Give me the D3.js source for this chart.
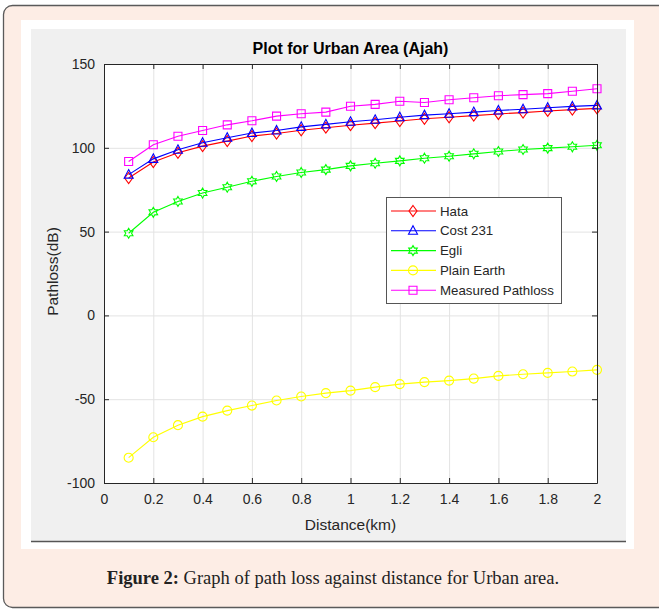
<!DOCTYPE html>
<html>
<head>
<meta charset="utf-8">
<script src="https://cdn.jsdelivr.net/npm/d3@7"></script>
<style>
  body { margin: 0; background: #fff; }
  svg text { font-family: "Liberation Sans", Arial, sans-serif; }
</style>
</head>
<body>
<div id="chart"></div>
<script>
// distance (km)
const distance = [0.1, 0.2, 0.3, 0.4, 0.5, 0.6, 0.7, 0.8, 0.9, 1.0,
                  1.1, 1.2, 1.3, 1.4, 1.5, 1.6, 1.7, 1.8, 1.9, 2.0];

const hata = [82, 91.5, 97, 101, 104, 107, 108.5, 110.5, 112, 113.5,
              114.7, 116, 117.3, 118.2, 119.2, 120.2, 121, 122, 122.8, 123.5];
const cost231 = [84, 93.4, 98.8, 103, 106, 108.8, 110.3, 112.5, 114, 115.5,
                 116.7, 118.2, 119.5, 120.3, 121.3, 122.3, 123, 123.9, 124.7, 125.3];
const egli = [49, 61.5, 68, 73, 76.5, 80, 82.9, 85.3, 87, 89.2,
              90.8, 92.2, 93.8, 95, 96.4, 97.8, 99, 99.8, 100.6, 101.5];
const plainEarth = [-84.9, -72.7, -65.5, -60.4, -56.8, -53.8, -50.8, -48.4, -46.4, -44.9,
                    -42.8, -41, -39.8, -38.9, -37.7, -36.1, -35.1, -34.3, -33.5, -32.5];
const measured = [91.8, 101.8, 106.9, 110.3, 113.7, 116.1, 118.9, 120.3, 121.3, 124.8,
                  125.9, 127.8, 127, 128.7, 129.9, 131.1, 131.7, 132.3, 133.7, 135.2];

const seriesNames = ["Hata", "Cost 231", "Egli", "Plain Earth", "Measured Pathloss"];
const seriesValues = [hata, cost231, egli, plainEarth, measured];
const seriesColors = ["#ff0000", "#0000ff", "#00ff00", "#ffff00", "#ff00ff"];
const seriesMarkers = ["diamond", "triangle", "hexagram", "circle", "square"];

const xTicks = [0, 0.2, 0.4, 0.6, 0.8, 1, 1.2, 1.4, 1.6, 1.8, 2];
const yTicks = [-100, -50, 0, 50, 100, 150];

const W = 659, H = 610;
const plot = { left: 104, top: 64, right: 597, bottom: 483 };

const svg = d3.select("#chart").append("svg")
    .attr("width", W)
    .attr("height", H);

// page frame
svg.append("rect")
    .attr("x", 3.5).attr("y", 5.5)
    .attr("width", 670).attr("height", 602)
    .attr("rx", 9)
    .attr("fill", "#fdede5")
    .attr("stroke", "#5a5a5a")
    .attr("stroke-width", 1.3);

svg.append("rect")
    .attr("x", 21).attr("y", 20)
    .attr("width", 613).attr("height", 529)
    .attr("fill", "#ffffff");

svg.append("rect")
    .attr("x", 31).attr("y", 29)
    .attr("width", 595).attr("height", 512)
    .attr("fill", "#f0f0f0");

svg.append("line")
    .attr("x1", 31).attr("x2", 626)
    .attr("y1", 541.5).attr("y2", 541.5)
    .attr("stroke", "#555")
    .attr("stroke-width", 1.5);

const x = d3.scaleLinear().domain([0, 2]).range([plot.left, plot.right]);
const y = d3.scaleLinear().domain([-100, 150]).range([plot.bottom, plot.top]);
const pw = plot.right - plot.left, ph = plot.bottom - plot.top;

const g = svg.append("g");

g.append("rect")
    .attr("x", plot.left).attr("y", plot.top)
    .attr("width", pw).attr("height", ph)
    .attr("fill", "#ffffff");

// grid
g.append("g")
    .attr("transform", `translate(0,${plot.bottom})`)
    .call(d3.axisBottom(x).tickValues(xTicks).tickSize(-ph).tickFormat(""))
    .call(a => a.select(".domain").remove())
    .call(a => a.selectAll("line").attr("stroke", "#e3e3e3"));
g.append("g")
    .attr("transform", `translate(${plot.left},0)`)
    .call(d3.axisLeft(y).tickValues(yTicks).tickSize(-pw).tickFormat(""))
    .call(a => a.select(".domain").remove())
    .call(a => a.selectAll("line").attr("stroke", "#e3e3e3"));

// marker shapes
function markerPath(type) {
    if (type === "diamond") return "M0,-5.5L4,0L0,5.5L-4,0Z";
    if (type === "triangle") return "M0,-5L4.5,3.5L-4.5,3.5Z";
    if (type === "square") return "M-4,-4L4,-4L4,4L-4,4Z";
    if (type === "circle") return d3.symbol(d3.symbolCircle, 64)();
    if (type === "hexagram") {
        const pts = [];
        for (let i = 0; i < 12; i++) {
            const r = i % 2 === 0 ? 5 : 2.9;
            const a = Math.PI / 6 * i;
            pts.push([r * Math.sin(a), -r * Math.cos(a)]);
        }
        return "M" + pts.map(p => p.join(",")).join("L") + "Z";
    }
}

const line = d3.line()
    .x((d, i) => x(distance[i]))
    .y(d => y(d));

seriesValues.forEach((vals, k) => {
    const sg = g.append("g");
    sg.append("path")
        .datum(vals)
        .attr("d", line)
        .attr("fill", "none")
        .attr("stroke", seriesColors[k])
        .attr("stroke-width", 1.1);
    sg.selectAll(".m")
        .data(vals)
        .join("path")
        .attr("class", "m")
        .attr("transform", (d, i) => `translate(${x(distance[i])},${y(d)})`)
        .attr("d", markerPath(seriesMarkers[k]))
        .attr("fill", "none")
        .attr("stroke", seriesColors[k])
        .attr("stroke-width", 1.1);
});

// axes box + inward ticks
const axisColor = "#262626";
function styleAxis(a) {
    a.select(".domain").attr("stroke", axisColor);
    a.selectAll(".tick line").attr("stroke", axisColor);
    a.selectAll(".tick text")
        .attr("fill", axisColor)
        .style("font-size", "14px");
}
g.append("g")
    .attr("transform", `translate(0,${plot.bottom})`)
    .call(d3.axisBottom(x).tickValues(xTicks).tickSizeInner(-5).tickSizeOuter(0).tickPadding(11)
        .tickFormat(d => String(d)))
    .call(styleAxis);
g.append("g")
    .attr("transform", `translate(0,${plot.top})`)
    .call(d3.axisTop(x).tickValues(xTicks).tickSizeInner(-5).tickSizeOuter(0).tickFormat(""))
    .call(styleAxis);
g.append("g")
    .attr("transform", `translate(${plot.left},0)`)
    .call(d3.axisLeft(y).tickValues(yTicks).tickSizeInner(-5).tickSizeOuter(0).tickPadding(9)
        .tickFormat(d => String(d)))
    .call(styleAxis);
g.append("g")
    .attr("transform", `translate(${plot.right},0)`)
    .call(d3.axisRight(y).tickValues(yTicks).tickSizeInner(-5).tickSizeOuter(0).tickFormat(""))
    .call(styleAxis);

// titles
svg.append("text")
    .attr("x", (plot.left + plot.right) / 2)
    .attr("y", 54)
    .attr("text-anchor", "middle")
    .style("font-size", "16px")
    .style("font-weight", "bold")
    .attr("fill", "#000")
    .text("Plot for Urban Area (Ajah)");

svg.append("text")
    .attr("x", (plot.left + plot.right) / 2)
    .attr("y", 530)
    .attr("text-anchor", "middle")
    .style("font-size", "15.5px")
    .attr("fill", axisColor)
    .text("Distance(km)");

svg.append("text")
    .attr("transform", `translate(58,${(plot.top + plot.bottom) / 2 - 2}) rotate(-90)`)
    .attr("text-anchor", "middle")
    .style("font-size", "15.5px")
    .attr("fill", axisColor)
    .text("Pathloss(dB)");

// legend
const lg = svg.append("g").attr("transform", "translate(386,197)");
lg.append("rect")
    .attr("x", 0.5).attr("y", 0.5)
    .attr("width", 175).attr("height", 106)
    .attr("fill", "#fff")
    .attr("stroke", "#555")
    .attr("stroke-width", 1);
seriesNames.forEach((name, k) => {
    const yy = 14 + k * 19.8;
    lg.append("line")
        .attr("x1", 5).attr("x2", 50)
        .attr("y1", yy).attr("y2", yy)
        .attr("stroke", seriesColors[k])
        .attr("stroke-width", 1.1);
    lg.append("path")
        .attr("transform", `translate(27,${yy})`)
        .attr("d", markerPath(seriesMarkers[k]))
        .attr("fill", "none")
        .attr("stroke", seriesColors[k])
        .attr("stroke-width", 1.1);
    lg.append("text")
        .attr("x", 54).attr("y", yy + 4.5)
        .style("font-size", "13.3px")
        .attr("fill", axisColor)
        .text(name);
});

// caption
const cap = svg.append("text")
    .attr("x", 333)
    .attr("y", 584)
    .attr("text-anchor", "middle")
    .style("font-family", "'Liberation Serif', 'DejaVu Serif', serif")
    .style("font-size", "18.5px")
    .attr("fill", "#222");
cap.append("tspan").style("font-weight", "bold").text("Figure 2:");
cap.append("tspan").text(" Graph of path loss against distance for Urban area.");
</script>
</body>
</html>
